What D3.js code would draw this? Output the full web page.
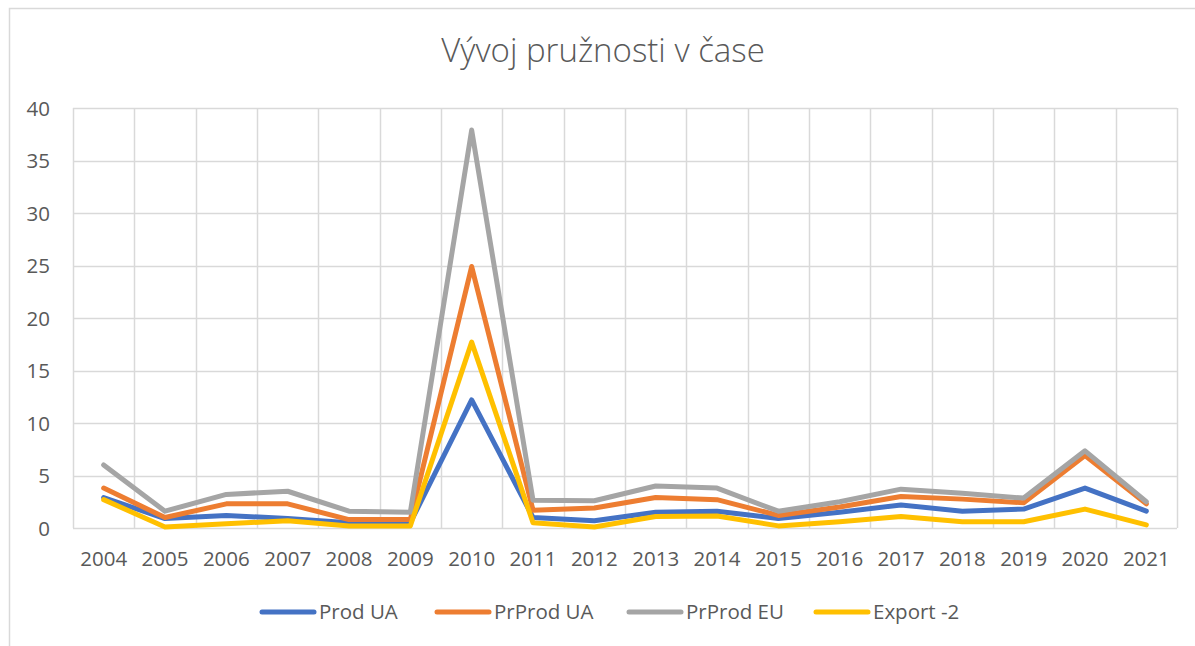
<!DOCTYPE html>
<html>
<head>
<meta charset="utf-8">
<script src="https://cdn.jsdelivr.net/npm/d3@7"></script>
<style>
  body { margin: 0; background: #fff; overflow: hidden; }
  text { font-family: 'Open Sans', 'Noto Sans', sans-serif; fill: #595959; }
</style>
</head>
<body>
<div id="chart"></div>
<script>
// data
const years = ['2004', '2005', '2006', '2007', '2008', '2009', '2010', '2011', '2012',
  '2013', '2014', '2015', '2016', '2017', '2018', '2019', '2020', '2021'];
const prodUA = [2.9, 0.9, 1.2, 0.9, 0.5, 0.5, 12.2, 1.0, 0.7, 1.5, 1.6, 0.9, 1.5, 2.2, 1.6, 1.8, 3.8, 1.6];
const prProdUA = [3.8, 1.0, 2.3, 2.3, 0.8, 0.8, 24.9, 1.7, 1.9, 2.9, 2.7, 1.2, 2.0, 3.0, 2.75, 2.4, 6.9, 2.3];
const prProdEU = [6.0, 1.6, 3.2, 3.5, 1.6, 1.5, 37.9, 2.65, 2.6, 4.0, 3.8, 1.6, 2.5, 3.7, 3.3, 2.85, 7.35, 2.5];
const export2 = [2.7, 0.1, 0.4, 0.7, 0.2, 0.2, 17.7, 0.5, 0.1, 1.1, 1.15, 0.2, 0.6, 1.1, 0.6, 0.6, 1.8, 0.3];
const seriesNames = ['Prod UA', 'PrProd UA', 'PrProd EU', 'Export -2'];
const seriesColors = ['#4472C4', '#ED7D31', '#A5A5A5', '#FFC000'];
const yTicks = [0, 5, 10, 15, 20, 25, 30, 35, 40];

const W = 1195, H = 646;
const margin = {top: 108, right: 18, bottom: 118, left: 73},
    width = W - margin.left - margin.right,
    height = H - margin.top - margin.bottom;

const svg = d3.select('#chart').append('svg')
    .attr('width', W)
    .attr('height', H);

// chart frame (right and bottom edges fall outside the picture)
svg.append('rect')
    .attr('x', 9.5).attr('y', 8.5)
    .attr('width', 1200).attr('height', 650)
    .attr('fill', '#fff')
    .attr('stroke', '#d9d9d9')
    .attr('stroke-width', 1.5);

svg.append('text')
    .attr('x', 603).attr('y', 62)
    .attr('text-anchor', 'middle')
    .style('font-size', '33px')
    .style('font-weight', 300)
    .text('Vývoj pružnosti v čase');

const g = svg.append('g')
    .attr('transform', 'translate(' + margin.left + ',' + margin.top + ')');

const x = d3.scaleBand()
  .domain(years)
  .range([0, width]);

const y = d3.scaleLinear()
  .domain([0, 40])
  .range([height, 0]);

// horizontal gridlines
g.append('g')
  .selectAll('line')
  .data(yTicks)
  .enter().append('line')
    .attr('x1', 0).attr('x2', width)
    .attr('y1', d => Math.round(y(d)) + 0.5)
    .attr('y2', d => Math.round(y(d)) + 0.5)
    .attr('stroke', '#d9d9d9')
    .attr('stroke-width', 1.5);

// vertical gridlines at category boundaries
g.append('g')
  .selectAll('line')
  .data(years.concat(['end']))
  .enter().append('line')
    .attr('x1', (d, i) => Math.round(i * x.step()) + 0.5)
    .attr('x2', (d, i) => Math.round(i * x.step()) + 0.5)
    .attr('y1', 0).attr('y2', height)
    .attr('stroke', '#d9d9d9')
    .attr('stroke-width', 1.5);

const yAxis = d3.axisLeft(y).tickValues(yTicks).tickSize(0).tickPadding(23);
g.append('g')
    .call(yAxis)
    .call(s => s.select('.domain').remove())
  .selectAll('text')
    .style('font-size', '20.5px')
    .attr('dy', '0.35em');

const xAxis = d3.axisBottom(x).tickSize(0).tickPadding(23);
g.append('g')
    .attr('transform', 'translate(0,' + height + ')')
    .call(xAxis)
    .call(s => s.select('.domain').remove())
  .selectAll('text')
    .style('font-size', '20.5px');

const line = d3.line()
  .x((d, i) => x(years[i]) + x.bandwidth() / 2)
  .y(d => y(d));

const allSeries = [prodUA, prProdUA, prProdEU, export2];
g.selectAll('.series')
  .data(allSeries)
  .enter().append('path')
    .attr('class', 'series')
    .attr('d', d => line(d))
    .attr('fill', 'none')
    .attr('stroke', (d, i) => seriesColors[i])
    .attr('stroke-width', 5)
    .attr('stroke-linejoin', 'round')
    .attr('stroke-linecap', 'round');

// legend
const legendX = [260, 435, 627, 814];
const legend = svg.append('g')
  .selectAll('g')
  .data(seriesNames)
  .enter().append('g')
    .attr('transform', (d, i) => 'translate(' + legendX[i] + ',612)');

legend.append('line')
    .attr('x1', 2).attr('x2', 54)
    .attr('stroke', (d, i) => seriesColors[i])
    .attr('stroke-width', 5)
    .attr('stroke-linecap', 'round');

legend.append('text')
    .attr('x', 59)
    .attr('dy', '0.35em')
    .style('font-size', '20.5px')
    .text(d => d);
</script>
</body>
</html>
